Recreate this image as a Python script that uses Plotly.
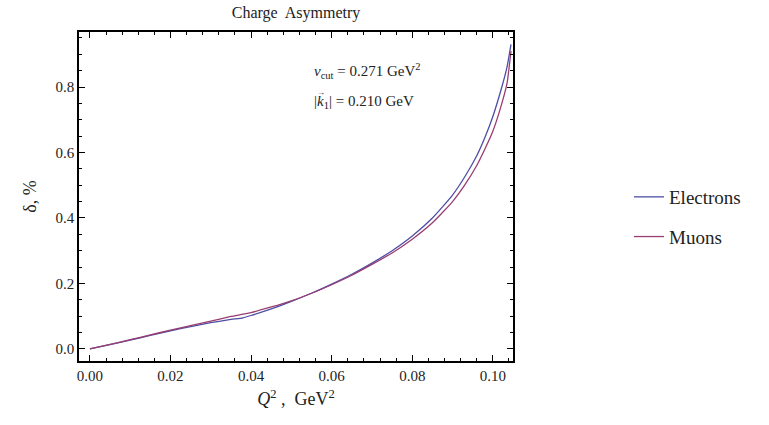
import plotly.graph_objects as go

# Data
q2 = [0, 0.005, 0.01, 0.015, 0.02, 0.025, 0.03, 0.035, 0.038, 0.04, 0.045, 0.05,
      0.055, 0.06, 0.065, 0.07, 0.075, 0.08, 0.085, 0.09, 0.093, 0.096, 0.098,
      0.100, 0.102, 0.1035, 0.1045]
electrons = [0, 0.013, 0.027, 0.041, 0.055, 0.068, 0.080, 0.090, 0.095, 0.102,
             0.122, 0.145, 0.170, 0.198, 0.228, 0.262, 0.300, 0.345, 0.400, 0.470,
             0.525, 0.590, 0.645, 0.710, 0.790, 0.860, 0.930]
muons = [0, 0.014, 0.028, 0.043, 0.057, 0.071, 0.085, 0.099, 0.106, 0.111,
         0.128, 0.147, 0.170, 0.196, 0.225, 0.258, 0.293, 0.335, 0.385, 0.450,
         0.500, 0.560, 0.610, 0.665, 0.740, 0.810, 0.910]

x_ticks = [0.00, 0.02, 0.04, 0.06, 0.08, 0.10]
x_ticklabels = ["0.00", "0.02", "0.04", "0.06", "0.08", "0.10"]
y_ticks = [0.0, 0.2, 0.4, 0.6, 0.8]
y_ticklabels = ["0.0", "0.2", "0.4", "0.6", "0.8"]

FONT = "Liberation Serif, Times New Roman, serif"
C_E = "#4d4da6"
C_M = "#993d71"

L, R, T, B = 79, 513, 32, 361
PW, PH = R - L, B - T

fig = go.Figure()
fig.add_trace(go.Scatter(x=q2, y=electrons, mode="lines", name="Electrons",
                         line=dict(color=C_E, width=1.3, shape="spline", smoothing=0.5),
                         legendgroup="e"))
fig.add_trace(go.Scatter(x=q2, y=muons, mode="lines", name="Muons",
                         line=dict(color=C_M, width=1.3, shape="spline", smoothing=0.5),
                         legendgroup="m"))

axis_common = dict(showline=True, linecolor="black", linewidth=1.5, mirror="ticks",
                   ticks="inside", ticklen=6, tickwidth=1, tickcolor="black",
                   showgrid=False, zeroline=False, automargin=False,
                   tickfont=dict(family=FONT, size=15, color="#222"))

fig.update_xaxes(range=[-0.0027, 0.105], tickvals=x_ticks, ticktext=x_ticklabels,
                 minor=dict(dtick=0.004, tick0=0, ticks="inside", ticklen=3,
                            tickcolor="black"),
                 title=dict(text="<i>Q</i><sup>2</sup> ,  GeV<sup>2</sup>",
                            font=dict(family=FONT, size=18, color="#222"), standoff=10),
                 **axis_common)
fig.update_yaxes(range=[-0.037, 0.968], tickvals=y_ticks, ticktext=y_ticklabels,
                 minor=dict(dtick=0.05, tick0=0, ticks="inside", ticklen=3,
                            tickcolor="black"),
                 title=dict(text="δ, %", font=dict(family=FONT, size=18, color="#222"),
                            standoff=14),
                 **axis_common)

fig.add_annotation(xref="paper", yref="paper", x=(312 - L) / PW, y=(B - 71) / PH,
                   xanchor="left", yanchor="middle", showarrow=False,
                   text="<i>ν</i><sub>cut</sub> = 0.271 GeV<sup>2</sup>",
                   font=dict(family=FONT, size=15, color="#222"))
fig.add_annotation(xref="paper", yref="paper", x=(312 - L) / PW, y=(B - 102) / PH,
                   xanchor="left", yanchor="middle", showarrow=False,
                   text="|<i>k</i><sub>1</sub>| = 0.210 GeV",
                   font=dict(family=FONT, size=15, color="#222"))
fig.add_annotation(xref="paper", yref="paper", x=(321 - L) / PW, y=(B - 92) / PH,
                   xanchor="center", yanchor="middle", showarrow=False,
                   text="→", font=dict(family=FONT, size=8, color="#222"))

fig.update_layout(
    width=769, height=425,
    margin=dict(l=L, r=769 - R, t=T, b=425 - B),
    paper_bgcolor="white", plot_bgcolor="white",
    title=dict(text="Charge  Asymmetry", x=(L + R) / 2 / 769, xanchor="center",
               y=1 - 12 / 425, yanchor="middle",
               font=dict(family=FONT, size=16, color="#222")),
    legend=dict(x=(629 - L) / PW, y=(B - 178) / PH, xanchor="left", yanchor="top",
                font=dict(family=FONT, size=19, color="#222"),
                tracegroupgap=12, bgcolor="rgba(0,0,0,0)"),
)

fig.write_html("out.html", config={"displayModeBar": False},
               post_script="document.body.style.margin='0';document.body.style.overflow='hidden';")
